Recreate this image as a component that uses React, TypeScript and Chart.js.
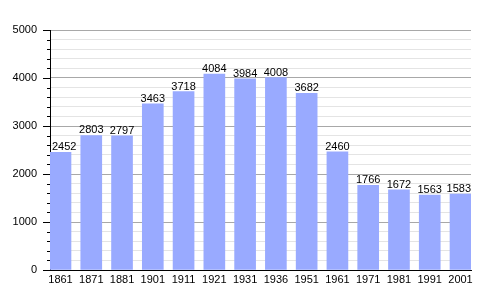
import React, { useEffect, useRef } from "react";
import { Chart, registerables } from "chart.js";

Chart.register(...registerables);

const years = ["1861", "1871", "1881", "1901", "1911", "1921", "1931", "1936", "1951", "1961", "1971", "1981", "1991", "2001"];
const population = [2452, 2803, 2797, 3463, 3718, 4084, 3984, 4008, 3682, 2460, 1766, 1672, 1563, 1583];
const yMax = 5000;
const yMajorStep = 1000;
const yMinorStep = 200;

const FONT = "'Liberation Sans', Arial, sans-serif";

const labelPlugin = {
  id: "barLabels",
  afterDatasetsDraw(chart: any) {
    const ctx = chart.ctx;
    const area = chart.chartArea;
    const meta = chart.getDatasetMeta(0);
    ctx.save();
    ctx.font = `11px ${FONT}`;
    ctx.fillStyle = "#000";
    ctx.textAlign = "center";
    ctx.textBaseline = "alphabetic";
    meta.data.forEach((el: any, i: number) => {
      const txt = String(population[i]);
      const w = ctx.measureText(txt).width;
      let x = el.x;
      x = Math.max(x, area.left + 2 + w / 2);
      x = Math.min(x, area.right - w / 2);
      ctx.fillText(txt, x, el.y - 2);
    });
    ctx.restore();
  },
};

const tickPlugin = {
  id: "yTickMarks",
  afterDraw(chart: any) {
    const ctx = chart.ctx;
    const y = chart.scales.y;
    const left = chart.chartArea.left;
    ctx.save();
    ctx.strokeStyle = "#000";
    ctx.lineWidth = 1;
    for (let v = 0; v <= yMax; v += yMinorStep) {
      const py = Math.round(y.getPixelForValue(v)) + 0.5;
      const len = v % yMajorStep === 0 ? 7 : 3;
      ctx.beginPath();
      ctx.moveTo(left - len, py);
      ctx.lineTo(left, py);
      ctx.stroke();
    }
    ctx.restore();
  },
};

export default function App() {
  const ref = useRef<HTMLCanvasElement>(null);
  useEffect(() => {
    if (!ref.current) return;
    const chart = new Chart(ref.current, {
      type: "bar",
      data: {
        datasets: [
          {
            data: population.map((v, i) => ({ x: i, y: v })),
            backgroundColor: "#99aaff",
            borderWidth: 0,
            barThickness: 21,
          },
        ],
      },
      options: {
        animation: false,
        responsive: false,
        maintainAspectRatio: false,
        layout: { padding: { left: 0, right: 29, top: 30, bottom: 0 } },
        plugins: { legend: { display: false }, tooltip: { enabled: false } },
        scales: {
          x: {
            type: "linear",
            offset: false,
            min: -0.341,
            max: years.length - 1 + 0.341,
            afterBuildTicks: (scale: any) => {
              scale.ticks = years.map((_, i) => ({ value: i }));
            },
            afterFit: (scale: any) => {
              scale.height = 30;
            },
            ticks: {
              autoSkip: false,
              maxRotation: 0,
              padding: 3,
              color: "#000",
              font: { family: FONT, size: 11 },
              callback: (v: any) => years[Math.round(Number(v))] ?? "",
            },
            grid: { display: true, offset: false, color: "rgba(0,0,0,0)", drawTicks: false },
            border: { display: true, color: "#000", width: 1 },
          },
          y: {
            min: 0,
            max: yMax,
            afterFit: (scale: any) => {
              scale.width = 50;
            },
            ticks: {
              stepSize: yMinorStep,
              padding: 13,
              color: "#000",
              autoSkip: false,
              font: { family: FONT, size: 11 },
              callback: (v: any) => (Number(v) % yMajorStep === 0 ? String(v) : ""),
            },
            grid: {
              drawTicks: false,
              color: (c: any) => (c.tick && c.tick.value % yMajorStep === 0 ? "#a8a8a8" : "#e4e4e4"),
            },
            border: { display: true, color: "#000", width: 1 },
          },
        },
      },
      plugins: [labelPlugin, tickPlugin],
    });
    return () => chart.destroy();
  }, []);
  return (
    <div style={{ position: "fixed", left: 0, top: 0, width: 500, height: 300, background: "#fff" }}>
      <canvas ref={ref} width={500} height={300} style={{ width: 500, height: 300 }} />
    </div>
  );
}
